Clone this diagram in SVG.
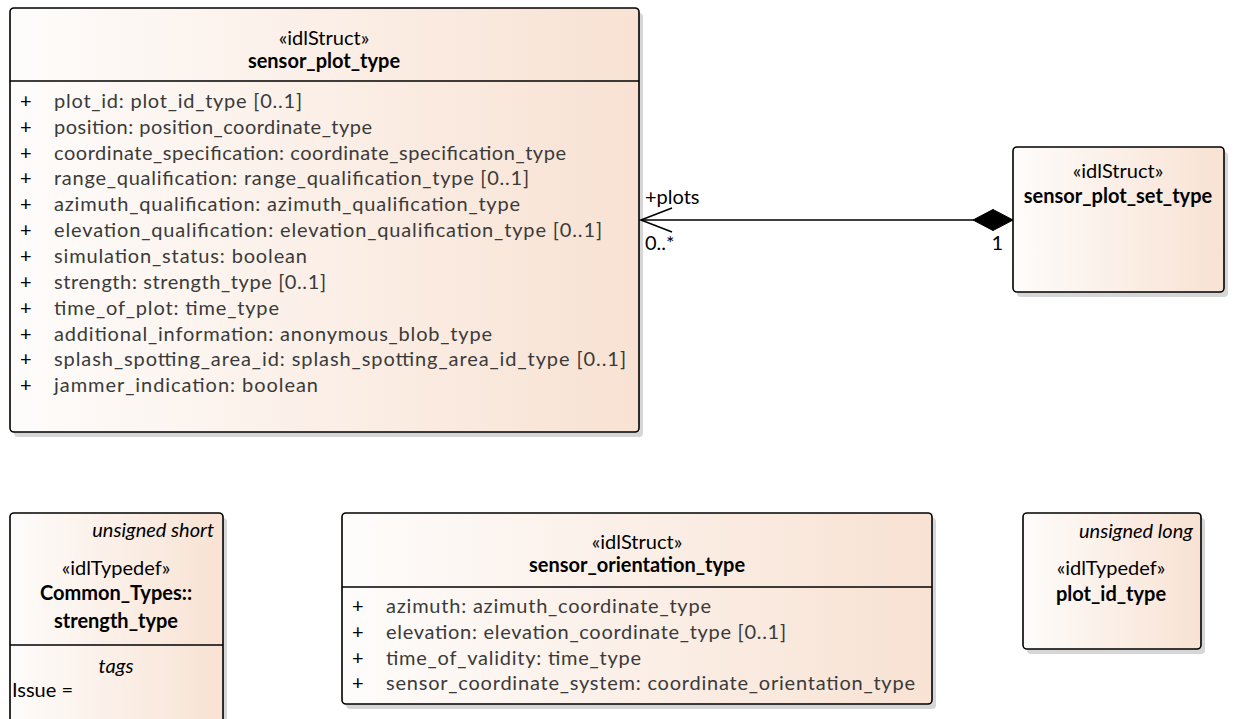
<svg xmlns="http://www.w3.org/2000/svg" width="1235" height="719" viewBox="0 0 1235 719">
<defs>
<linearGradient id="fillg" x1="0" y1="0" x2="1" y2="0">
<stop offset="0" stop-color="#fefcfb"/>
<stop offset="1" stop-color="#f8e2d3"/>
</linearGradient>
</defs>
<style>
.box{fill:url(#fillg);stroke:#000;stroke-width:1.6}
.shadow{fill:#d6d6d6}
.sep{stroke:#000;stroke-width:1.4}
text{font-family:Lato,"Liberation Sans",sans-serif;font-size:20px;fill:#000}
.st{text-anchor:middle}
.nm{text-anchor:middle;font-weight:bold}
.at{fill:#3a3a3a}
.it{font-style:italic}
.conn{stroke:#000;stroke-width:1.6;fill:none}
</style>
<rect width="1235" height="719" fill="#fff"/>

<g id="sensor_plot_type">
<rect class="shadow" x="14" y="13" width="629" height="424" rx="4"/>
<rect class="box" x="10" y="8" width="629" height="424" rx="4"/>
<line class="sep" x1="10" y1="81" x2="639" y2="81"/>
<text class="st" x="324" y="45">«idlStruct»</text>
<text class="nm" x="324" y="68">sensor_plot_type</text>
<g class="at">
<text x="20" y="108">+</text><text class="at" x="54" y="108" textLength="248">plot_id: plot_id_type [0..1]</text>
<text x="20" y="134">+</text><text class="at" x="54" y="134" textLength="318">position: position_coordinate_type</text>
<text x="20" y="160">+</text><text class="at" x="54" y="160" textLength="512">coordinate_specification: coordinate_specification_type</text>
<text x="20" y="185">+</text><text class="at" x="54" y="185" textLength="475">range_qualification: range_qualification_type [0..1]</text>
<text x="20" y="211">+</text><text class="at" x="54" y="211" textLength="466">azimuth_qualification: azimuth_qualification_type</text>
<text x="20" y="237">+</text><text class="at" x="54" y="237" textLength="548">elevation_qualification: elevation_qualification_type [0..1]</text>
<text x="20" y="263">+</text><text class="at" x="54" y="263" textLength="253">simulation_status: boolean</text>
<text x="20" y="289">+</text><text class="at" x="54" y="289" textLength="272">strength: strength_type [0..1]</text>
<text x="20" y="315">+</text><text class="at" x="54" y="315" textLength="225">time_of_plot: time_type</text>
<text x="20" y="341">+</text><text class="at" x="54" y="341" textLength="438">additional_information: anonymous_blob_type</text>
<text x="20" y="366">+</text><text class="at" x="54" y="366" textLength="572">splash_spotting_area_id: splash_spotting_area_id_type [0..1]</text>
<text x="20" y="392">+</text><text class="at" x="54" y="392" textLength="264">jammer_indication: boolean</text>
</g>
</g>

<g id="sensor_plot_set_type">
<rect class="shadow" x="1017" y="152" width="211" height="145" rx="4"/>
<rect class="box" x="1013" y="147" width="211" height="145" rx="4"/>
<text class="st" x="1118" y="178">«idlStruct»</text>
<text class="nm" x="1118" y="203">sensor_plot_set_type</text>
</g>

<g id="strength_type">
<rect class="shadow" x="14" y="518" width="213" height="220" rx="4"/>
<rect class="box" x="10" y="513" width="213" height="220" rx="4"/>
<text class="it" x="214" y="537" text-anchor="end">unsigned short</text>
<text class="st" x="116" y="575">«idlTypedef»</text>
<text class="nm" x="116" y="600">Common_Types::</text>
<text class="nm" x="116" y="628">strength_type</text>
<line class="sep" x1="10" y1="645" x2="223" y2="645"/>
<text class="st it" x="116" y="673">tags</text>
<text x="12" y="697">Issue =</text>
</g>

<g id="sensor_orientation_type">
<rect class="shadow" x="346" y="518" width="590" height="191" rx="4"/>
<rect class="box" x="342" y="513" width="590" height="191" rx="4"/>
<text class="st" x="637" y="549">«idlStruct»</text>
<text class="nm" x="637" y="572">sensor_orientation_type</text>
<line class="sep" x1="342" y1="587" x2="932" y2="587"/>
<g class="at">
<text x="352" y="613">+</text><text class="at" x="386" y="613" textLength="325">azimuth: azimuth_coordinate_type</text>
<text x="352" y="639">+</text><text class="at" x="386" y="639" textLength="400">elevation: elevation_coordinate_type [0..1]</text>
<text x="352" y="665">+</text><text class="at" x="386" y="665" textLength="255">time_of_validity: time_type</text>
<text x="352" y="690">+</text><text class="at" x="386" y="690" textLength="529">sensor_coordinate_system: coordinate_orientation_type</text>
</g>
</g>

<g id="plot_id_type">
<rect class="shadow" x="1027" y="518" width="178" height="136" rx="4"/>
<rect class="box" x="1023" y="513" width="178" height="136" rx="4"/>
<text class="it" x="1193" y="538" text-anchor="end">unsigned long</text>
<text class="st" x="1111" y="575">«idlTypedef»</text>
<text class="nm" x="1111" y="601">plot_id_type</text>
</g>

<g id="connectors">
<line class="conn" x1="641" y1="220" x2="974" y2="220"/>
<polyline class="conn" points="672,208 641,220 672,232"/>
<polygon points="1013,220 993,209.5 973,220 993,230.5" fill="#000" stroke="#000" stroke-width="1"/>
<text x="645" y="204">+plots</text>
<text x="645" y="250">0..*</text>
<text x="1003" y="250" text-anchor="end">1</text>
</g>
</svg>
